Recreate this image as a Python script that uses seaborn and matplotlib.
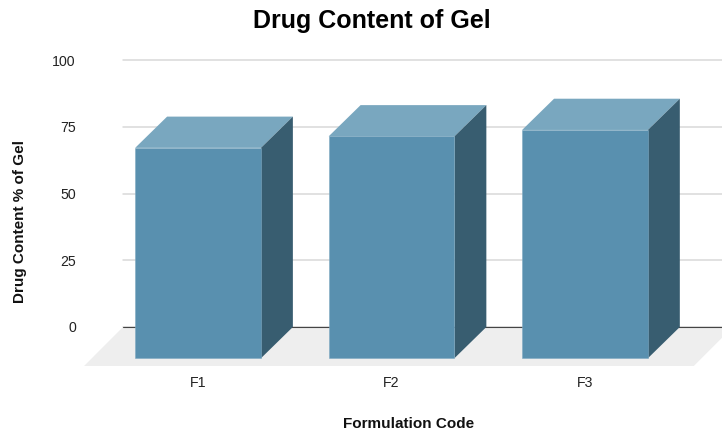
import seaborn as sns
import matplotlib.pyplot as plt
from matplotlib.patches import Polygon

formulations = ['F1', 'F2', 'F3']
drug_content = [78.8, 83.1, 85.5]
y_ticks = [0, 25, 50, 75, 100]

# depth of the fake 3D box, in data units
DEPTH_X = 0.165
DEPTH_Y = 11.7

sns.set_theme(style='whitegrid')
plt.rcParams['font.family'] = ['Liberation Sans', 'DejaVu Sans']

fig = plt.figure(figsize=(7.22, 4.32), dpi=100)
ax = fig.add_axes([123 / 722, 1 - 327 / 432, 599 / 722, 267 / 432])

sns.barplot(x=formulations, y=drug_content, color='#5990AF', saturation=1,
            width=0.65, ax=ax, zorder=4)

# floor under the bars
floor = Polygon([(0, 0), (1.018, 0), (0.953, -0.146), (-0.065, -0.146)],
                closed=True, transform=ax.transAxes, facecolor='#eeeeee',
                edgecolor='none', clip_on=False, zorder=1)
ax.add_patch(floor)

for bar in list(ax.patches):
    if bar is floor:
        continue
    x, w, h = bar.get_x(), bar.get_width(), bar.get_height()
    # top and side faces, then slide the bar forward to be the front face
    top = [(x - DEPTH_X, h - DEPTH_Y), (x + w - DEPTH_X, h - DEPTH_Y), (x + w, h), (x, h)]
    side = [(x + w - DEPTH_X, -DEPTH_Y), (x + w, 0), (x + w, h), (x + w - DEPTH_X, h - DEPTH_Y)]
    ax.add_patch(Polygon(top, closed=True, facecolor='#79A7BF', edgecolor='none',
                         clip_on=False, zorder=3))
    ax.add_patch(Polygon(side, closed=True, facecolor='#385D70', edgecolor='none',
                         clip_on=False, zorder=3))
    bar.set_x(x - DEPTH_X)
    bar.set_y(-DEPTH_Y)
    bar.set_clip_on(False)
    bar.set_edgecolor('#7FAAC2')
    bar.set_linewidth(0.4)

ax.set_xlim(-0.553, 2.543)
ax.set_ylim(0, 100)
ax.set_yticks(y_ticks)
ax.set_xticks([i - DEPTH_X for i in range(len(formulations))])
ax.set_xticklabels(formulations)

sns.despine(ax=ax, left=True, bottom=True)
ax.grid(False, axis='x')
ax.grid(True, axis='y', color='#d9d9d9', linewidth=1.1, clip_on=False)
ax.set_axisbelow(True)
ax.axhline(0, color='#444444', linewidth=0.8, zorder=2, clip_on=False)

ax.tick_params(axis='y', length=0, pad=34, labelsize=10.2, labelcolor='#222222')
ax.tick_params(axis='x', length=0, pad=35.5, labelsize=10.2, labelcolor='#222222')

ax.set_xlabel('Formulation Code', fontsize=11, fontweight='bold', color='#111111')
ax.set_ylabel('Drug Content % of Gel', fontsize=11, fontweight='bold', color='#111111')
ax.xaxis.set_label_coords(0.476, -0.337)
ax.yaxis.set_label_coords(-0.161, 0.397)

fig.suptitle('Drug Content of Gel', x=372 / 722, y=1 - 21 / 432, va='center',
             fontsize=18, fontweight='bold', color='#000000')

plt.savefig('out.png', dpi=100)
